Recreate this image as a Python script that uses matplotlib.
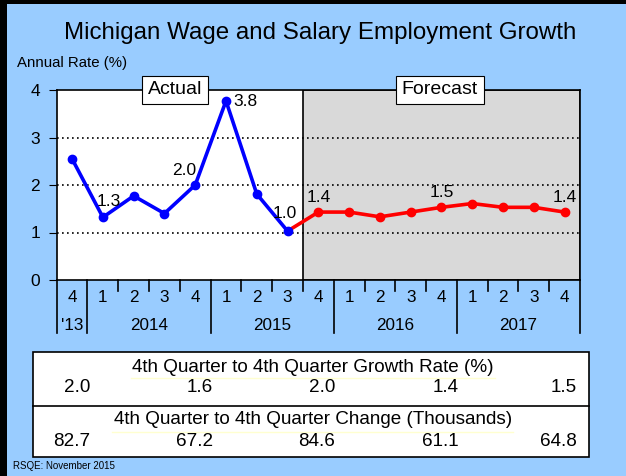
import matplotlib
matplotlib.use("Agg")
import matplotlib.pyplot as plt
from matplotlib.patches import Rectangle
from matplotlib.lines import Line2D
import numpy as np

plt.rcParams["font.family"] = ["Liberation Sans", "DejaVu Sans"]

# data
quarters = ["4", "1", "2", "3", "4", "1", "2", "3", "4",
            "1", "2", "3", "4", "1", "2", "3", "4"]
years = ["'13", "2014", "2015", "2016", "2017"]
year_span = [(0, 1), (1, 5), (5, 9), (9, 13), (13, 17)]
actual = [2.55, 1.32, 1.77, 1.40, 2.00, 3.77, 1.81, 1.03]
forecast = [1.43, 1.43, 1.33, 1.43, 1.53, 1.61, 1.53, 1.53, 1.43]
labels = {1: "1.3", 4: "2.0", 5: "3.8", 7: "1.0", 8: "1.4", 12: "1.5", 16: "1.4"}
label_offset = {1: (4, 6), 4: (-8, 5), 5: (14, -6), 7: (-2, 7),
                8: (0, 5), 12: (0, 5), 16: (0, 5)}

growth_head = "4th Quarter to 4th Quarter Growth Rate (%)"
growth = ["2.0", "1.6", "2.0", "1.4", "1.5"]
change_head = "4th Quarter to 4th Quarter Change (Thousands)"
change = ["82.7", "67.2", "84.6", "61.1", "64.8"]

BG = "#99CCFF"
W, H = 626, 476

fig = plt.figure(figsize=(W / 100, H / 100), dpi=100, facecolor=BG)

# black slide edges (top & left)
fig.add_artist(Rectangle((0, 1 - 4 / H), 1, 4 / H, transform=fig.transFigure,
                         facecolor="black", edgecolor="none"))
fig.add_artist(Rectangle((0, 0), 7 / W, 1, transform=fig.transFigure,
                         facecolor="black", edgecolor="none"))

fig.text(320.5 / W, 1 - 33 / H, "Michigan Wage and Salary Employment Growth",
         ha="center", va="center", fontsize=17.4)
fig.text(17 / W, 1 - 63 / H, "Annual Rate (%)", ha="left", va="center", fontsize=10.8)

ax = fig.add_axes([56.7 / W, 1 - 280 / H, (580 - 56.7) / W, 190 / H])
ax.set_facecolor("white")
ax.set_xlim(0, 17)
ax.set_ylim(0, 4)

n_act = len(actual)
x_all = np.arange(len(quarters)) + 0.5
x_act = x_all[:n_act]
x_fc = x_all[n_act - 1:]

ax.axvspan(n_act, 17, facecolor="#D9D9D9", edgecolor="black", linewidth=1.2, zorder=0)
for v in [1, 2, 3]:
    ax.axhline(v, color="black", linestyle=(0, (1, 2)), linewidth=1.2, zorder=1)

ax.plot(x_fc, [actual[-1]] + forecast, color="#FF0000", linewidth=2.6,
        marker="o", markersize=6, zorder=3, markevery=list(range(1, len(forecast) + 1)))
ax.plot(x_act, actual, color="#0000FF", linewidth=2.6, marker="o", markersize=6, zorder=4)

values = actual + forecast
for i, txt in labels.items():
    ax.annotate(txt, (x_all[i], values[i]), xytext=label_offset[i],
                textcoords="offset points", ha="center", va="bottom", fontsize=12.5,
                zorder=5)

box = dict(boxstyle="square,pad=0.3", facecolor="white", edgecolor="black", lw=0.8)
ax.text(3.85, 4, "Actual", ha="center", va="center", fontsize=14, bbox=box)
ax.text(12.45, 4, "Forecast", ha="center", va="center", fontsize=14, bbox=box)

for s in ax.spines.values():
    s.set_linewidth(1.2)
ax.set_yticks([0, 1, 2, 3, 4])
ax.tick_params(axis="y", direction="out", length=6, labelsize=12.5, pad=6)
ax.set_xticks([])

# category axis
trans = ax.get_xaxis_transform()
for i, q in enumerate(quarters):
    ax.text(x_all[i], -18 / 190, q, transform=trans, ha="center", va="center", fontsize=12.3)
starts = [a for a, b in year_span] + [year_span[-1][1]]
for b in range(18):
    y_end = -53 / 190 if b in starts else -11 / 190
    ax.add_line(Line2D([b, b], [0, y_end], transform=trans, color="black",
                       linewidth=1.2, clip_on=False))
for (a, b), yr in zip(year_span, years):
    ax.text((a + b) / 2, -45 / 190, yr, transform=trans, ha="center", va="center",
            fontsize=12.3)

# table below
tx0, tx1 = 33 / W, 589 / W
ty0, ty1 = 1 - 457 / H, 1 - 352 / H
fig.add_artist(Rectangle((tx0, ty0), tx1 - tx0, ty1 - ty0, transform=fig.transFigure,
                         facecolor="white", edgecolor="black", linewidth=1.2))
fig.add_artist(Line2D([tx0, tx1], [1 - 406 / H] * 2, transform=fig.transFigure,
                      color="black", linewidth=1.2))
fig.add_artist(Line2D([131 / W, 495 / W], [1 - 378 / H] * 2, transform=fig.transFigure,
                      color="#FFFFD0", linewidth=1))
fig.add_artist(Line2D([112 / W, 513 / W], [1 - 432 / H] * 2, transform=fig.transFigure,
                      color="#FFFFD0", linewidth=1))

fig.text(313 / W, 1 - 367 / H, growth_head, ha="center", va="center", fontsize=13.6)
fig.text(313 / W, 1 - 420 / H, change_head, ha="center", va="center", fontsize=13.6)
right_edges = [90, 213, 335, 459, 577]
for xr, g, c in zip(right_edges, growth, change):
    fig.text(xr / W, 1 - 388 / H, g, ha="right", va="center", fontsize=13.6)
    fig.text(xr / W, 1 - 441 / H, c, ha="right", va="center", fontsize=13.6)

fig.text(13 / W, 1 - 466 / H, "RSQE: November 2015", ha="left", va="center", fontsize=7)

fig.savefig("out.png", dpi=100, facecolor=BG)
